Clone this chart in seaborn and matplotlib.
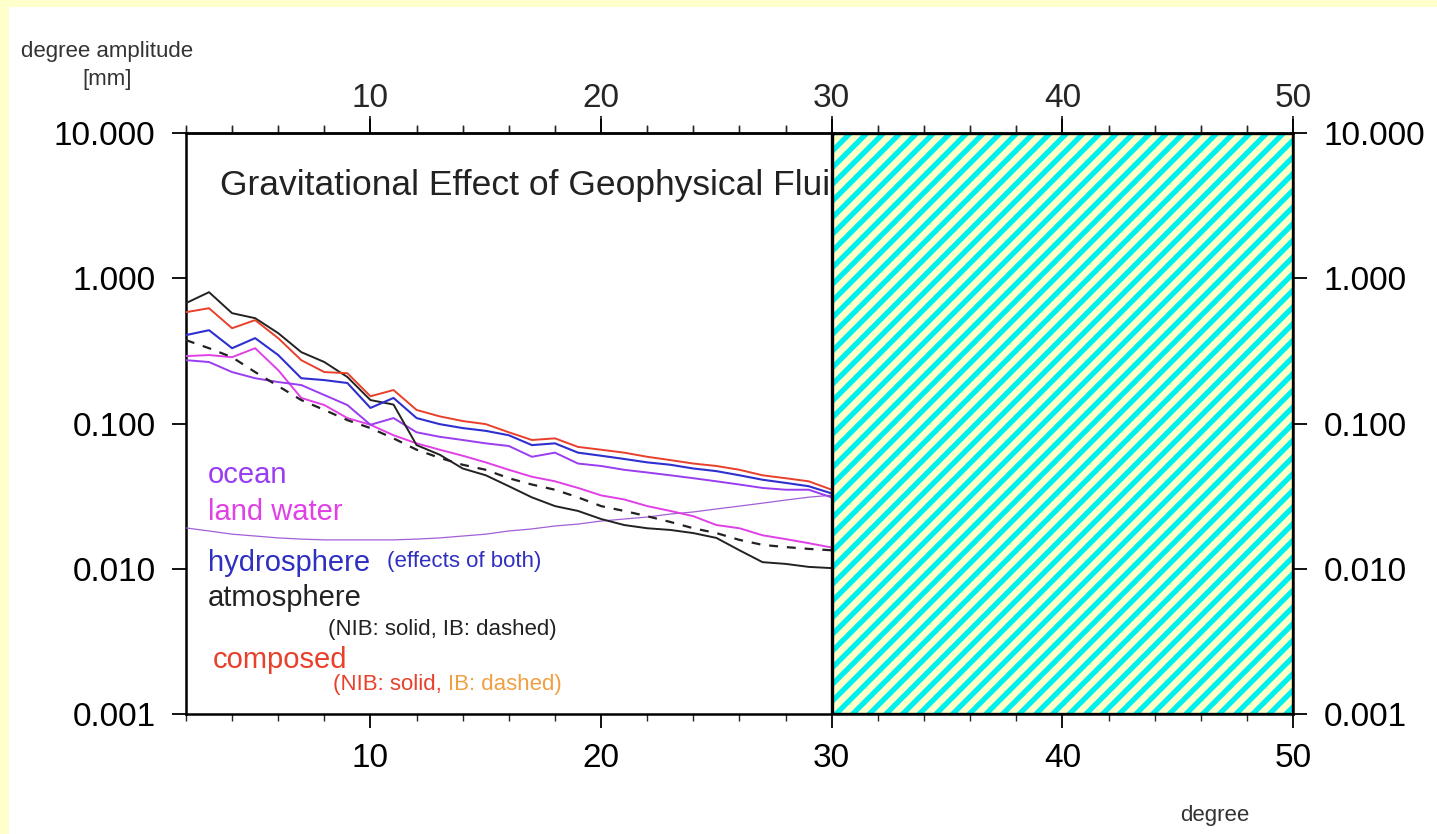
import numpy as np
import pandas as pd
import matplotlib
matplotlib.use('Agg')
import matplotlib.pyplot as plt
import matplotlib.ticker as mticker
from matplotlib.patches import Rectangle
import seaborn as sns

# spherical harmonic degrees
degrees = list(range(2, 31))

# degree amplitudes [mm]
composed_nib = [0.584, 0.622, 0.453, 0.515, 0.387, 0.273, 0.226, 0.222, 0.154, 0.170,
                0.124, 0.112, 0.104, 0.099, 0.087, 0.077, 0.079, 0.069, 0.066, 0.063,
                0.059, 0.056, 0.053, 0.051, 0.048, 0.044, 0.042, 0.040, 0.035]
hydrosphere = [0.406, 0.439, 0.330, 0.387, 0.296, 0.205, 0.199, 0.190, 0.128, 0.150,
               0.109, 0.099, 0.093, 0.089, 0.083, 0.071, 0.073, 0.063, 0.060, 0.057,
               0.054, 0.052, 0.049, 0.047, 0.044, 0.041, 0.039, 0.037, 0.033]
ocean = [0.273, 0.265, 0.226, 0.205, 0.193, 0.184, 0.157, 0.134, 0.098, 0.109,
         0.087, 0.081, 0.077, 0.073, 0.070, 0.059, 0.063, 0.053, 0.051, 0.048,
         0.046, 0.044, 0.042, 0.040, 0.038, 0.036, 0.035, 0.035, 0.031]
land_water = [0.291, 0.296, 0.286, 0.330, 0.233, 0.150, 0.134, 0.109, 0.098, 0.083,
              0.073, 0.066, 0.060, 0.054, 0.048, 0.043, 0.040, 0.036, 0.032, 0.030,
              0.027, 0.025, 0.023, 0.020, 0.019, 0.017, 0.016, 0.015, 0.014]
atmosphere_nib = [0.674, 0.802, 0.575, 0.531, 0.419, 0.310, 0.265, 0.209, 0.145, 0.135,
                  0.071, 0.061, 0.049, 0.044, 0.037, 0.031, 0.027, 0.025, 0.022, 0.020,
                  0.019, 0.0185, 0.0176, 0.0163, 0.0134, 0.0111, 0.0108, 0.0103, 0.0101]
atmosphere_ib = [0.375, 0.330, 0.286, 0.226, 0.181, 0.145, 0.124, 0.1055, 0.093, 0.079,
                 0.066, 0.058, 0.052, 0.048, 0.042, 0.038, 0.035, 0.031, 0.027, 0.025,
                 0.023, 0.021, 0.019, 0.0176, 0.0158, 0.0146, 0.0141, 0.0137, 0.0134]
model_curve = [0.0191, 0.0182, 0.0173, 0.0168, 0.0163, 0.0160, 0.0158, 0.0158, 0.0158, 0.0158,
               0.0160, 0.0163, 0.0168, 0.0173, 0.0182, 0.0188, 0.0197, 0.0203, 0.0213, 0.0220,
               0.0227, 0.0238, 0.0246, 0.0258, 0.0270, 0.0283, 0.0297, 0.0311, 0.0321]

masked_range = (30, 50)
x_range = (2, 50)
y_range = (0.001, 10)
y_ticks = [0.001, 0.01, 0.1, 1, 10]
x_ticks = [10, 20, 30, 40, 50]

sns.set_style('ticks')
plt.rcParams['font.family'] = ['Liberation Sans', 'DejaVu Sans']
plt.rcParams['hatch.linewidth'] = 3.8

fig = plt.figure(figsize=(14.37, 8.34), dpi=100)
fig.patch.set_facecolor('#ffffcc')
fig.patches.append(Rectangle((9 / 1437, 0), 1, 1 - 7 / 834, transform=fig.transFigure,
                             facecolor='white', edgecolor='none', zorder=-10))
ax = fig.add_axes([0.1294, 0.1439, 0.7704, 0.6966])
ax.set_zorder(2)
ax.set_facecolor('white')

series = [
    (model_curve, '#a35fd6', '-', 0.9),
    (land_water, '#e040e6', '-', 1.4),
    (ocean, '#9a3cf0', '-', 1.4),
    (atmosphere_ib, '#222222', (0, (4, 4)), 1.6),
    (atmosphere_nib, '#222222', '-', 1.4),
    (hydrosphere, '#2f2fd0', '-', 1.5),
    (composed_nib, '#e8402a', '-', 1.4),
]
for vals, col, ls, lw in series:
    sns.lineplot(x=degrees, y=vals, color=col, linestyle=ls, linewidth=lw, ax=ax, zorder=3)

ax.set_yscale('log')
ax.set_xlim(*x_range)
ax.set_ylim(*y_range)
ax.set_xticks(x_ticks)
ax.xaxis.set_minor_locator(mticker.MultipleLocator(2))
ax.set_yticks(y_ticks)
ax.yaxis.set_minor_locator(mticker.NullLocator())
ax.yaxis.set_major_formatter(mticker.FormatStrFormatter('%.3f'))
ax.tick_params(axis='both', which='major', direction='out', length=10, width=1.3,
               labelsize=24, colors='black')
ax.tick_params(axis='x', which='both', top=True, labeltop=False, bottom=True)
ax.tick_params(axis='x', which='major', pad=11)
ax.tick_params(axis='x', which='minor', length=5, width=1.0)
ax.tick_params(axis='y', which='major', right=True, labelright=True, pad=12)
for sp in ax.spines.values():
    sp.set_linewidth(1.8)
    sp.set_color('black')
ax.set_xlabel('')
ax.set_ylabel('')

# top axis labels sit closer to the frame than the bottom ones
top = ax.secondary_xaxis('top')
top.set_xticks(x_ticks)
top.tick_params(axis='x', which='major', direction='out', length=12, width=1.3,
                labelsize=24, pad=2)
top.xaxis.set_minor_locator(mticker.MultipleLocator(2))
top.tick_params(axis='x', which='minor', direction='out', length=6, width=1.0)
top.spines['top'].set_linewidth(1.8)

# masked (hatched) region
ax.add_patch(Rectangle((masked_range[0], y_range[0]), masked_range[1] - masked_range[0],
                       y_range[1] - y_range[0], facecolor='#ffffc8', edgecolor='#00f0f0',
                       hatch='//', linewidth=0, zorder=4))
ax.add_patch(Rectangle((masked_range[0], y_range[0]), masked_range[1] - masked_range[0],
                       y_range[1] - y_range[0], facecolor='none', edgecolor='black',
                       linewidth=2.4, zorder=5))

ax.text(0.0307, 0.9105, 'Gravitational Effect of Geophysical Fluids', transform=ax.transAxes,
        fontsize=25.5, va='center', ha='left', color='#222222', zorder=1)

ax.text(0.0199, 0.411, 'ocean', color='#9a3cf0', fontsize=21, transform=ax.transAxes, va='center')
ax.text(0.0199, 0.348, 'land water', color='#e040e6', fontsize=21, transform=ax.transAxes, va='center')
ax.text(0.0199, 0.260, 'hydrosphere', color='#2f2fc0', fontsize=21, transform=ax.transAxes, va='center')
ax.text(0.182, 0.262, '(effects of both)', color='#2f2fc0', fontsize=16, transform=ax.transAxes, va='center')
ax.text(0.0199, 0.200, 'atmosphere', color='#222222', fontsize=21, transform=ax.transAxes, va='center')
ax.text(0.128, 0.1446, '(NIB: solid, IB: dashed)', color='#222222', fontsize=16,
        transform=ax.transAxes, va='center')
ax.text(0.0244, 0.093, 'composed', color='#e8402a', fontsize=21, transform=ax.transAxes, va='center')
t1 = ax.text(0.133, 0.050, '(NIB: solid, ', color='#e8402a', fontsize=16,
             transform=ax.transAxes, va='center')
ax.annotate('IB: dashed)', xy=(1, 0.5), xycoords=t1, va='center', ha='left',
            color='#f0a040', fontsize=16)

fig.text(107 / 1437, 1 - 52 / 834, 'degree amplitude', ha='center', va='center',
         fontsize=16, color='#333333')
fig.text(107 / 1437, 1 - 80 / 834, '[mm]', ha='center', va='center', fontsize=16, color='#333333')
fig.text(1215 / 1437, 1 - 815 / 834, 'degree', ha='center', va='center', fontsize=16, color='#333333')

fig.savefig('out.png', dpi=100, facecolor=fig.get_facecolor())
